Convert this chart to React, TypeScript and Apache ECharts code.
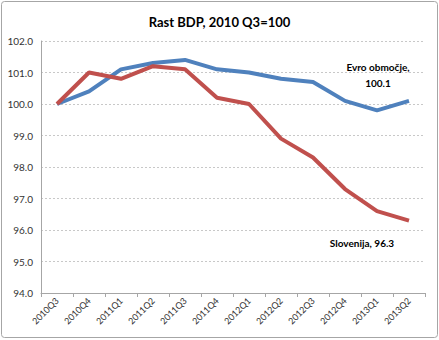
import React, { useEffect, useRef } from "react";
import * as echarts from "echarts";

const categories = ["2010Q3", "2010Q4", "2011Q1", "2011Q2", "2011Q3", "2011Q4", "2012Q1", "2012Q2", "2012Q3", "2012Q4", "2013Q1", "2013Q2"];
const evroValues = [100.0, 100.4, 101.1, 101.3, 101.4, 101.1, 101.0, 100.8, 100.7, 100.1, 99.8, 100.1];
const sloValues = [100.0, 101.0, 100.8, 101.2, 101.1, 100.2, 100.0, 98.9, 98.3, 97.3, 96.6, 96.3];
const titleText = "Rast BDP, 2010 Q3=100";
const evroLabel = ["Evro območje,", "100.1"];
const sloLabel = "Slovenija, 96.3";

const FONT = "Lato, 'Liberation Sans', sans-serif";

export default function App() {
  const ref = useRef<HTMLDivElement>(null);
  useEffect(() => {
    document.body.style.margin = "0";
    const chart = echarts.init(ref.current!, null, { renderer: "svg" });
    chart.setOption({
      animation: false,
      backgroundColor: "#ffffff",
      textStyle: { fontFamily: FONT },
      title: {
        text: titleText,
        left: "center",
        top: 10,
        textStyle: { fontSize: 13, fontWeight: "bold", color: "#000", fontFamily: FONT },
      },
      grid: { left: 41, right: 14, top: 41, bottom: 47, containLabel: false, outerBoundsMode: "none" },
      xAxis: {
        type: "category",
        data: categories,
        boundaryGap: true,
        axisLine: { lineStyle: { color: "#a6a6a6", width: 1 } },
        axisTick: { show: true, alignWithLabel: false, length: 4, lineStyle: { color: "#a6a6a6" } },
        axisLabel: { rotate: 45, fontSize: 9, color: "#333", margin: 6, fontFamily: FONT },
      },
      yAxis: {
        type: "value",
        min: 94,
        max: 102,
        interval: 1,
        axisLine: { show: true, lineStyle: { color: "#a6a6a6", width: 1 } },
        axisTick: { show: false },
        splitLine: { lineStyle: { color: "#c8c8c8", type: [2, 2], width: 1 } },
        axisLabel: { fontSize: 10, color: "#333", margin: 8, formatter: (v: number) => v.toFixed(1), fontFamily: FONT },
      },
      series: [
        {
          name: "Evro območje",
          type: "line",
          data: evroValues,
          symbol: "none",
          lineStyle: { color: "#4F81BD", width: 4 },
          itemStyle: { color: "#4F81BD" },
        },
        {
          name: "Slovenija",
          type: "line",
          data: sloValues,
          symbol: "none",
          lineStyle: { color: "#C0504D", width: 4 },
          itemStyle: { color: "#C0504D" },
        },
      ],
      graphic: [
        {
          type: "rect",
          shape: { x: 1.5, y: 1.5, width: 436, height: 336, r: 3 },
          style: { fill: "none", stroke: "#a6a6a6", lineWidth: 1 },
          silent: true,
        },
        {
          type: "text",
          x: 378,
          y: 67,
          style: { text: evroLabel[0], fontSize: 10, fontWeight: "bold", fill: "#000", align: "center", verticalAlign: "middle", fontFamily: FONT },
        },
        {
          type: "text",
          x: 378,
          y: 83,
          style: { text: evroLabel[1], fontSize: 10, fontWeight: "bold", fill: "#000", align: "center", verticalAlign: "middle", fontFamily: FONT },
        },
        {
          type: "text",
          x: 362,
          y: 243,
          style: { text: sloLabel, fontSize: 10, fontWeight: "bold", fill: "#000", align: "center", verticalAlign: "middle", fontFamily: FONT },
        },
      ],
    });
    return () => chart.dispose();
  }, []);
  return <div ref={ref} style={{ position: "absolute", left: 0, top: 0, width: 439, height: 340 }} />;
}
